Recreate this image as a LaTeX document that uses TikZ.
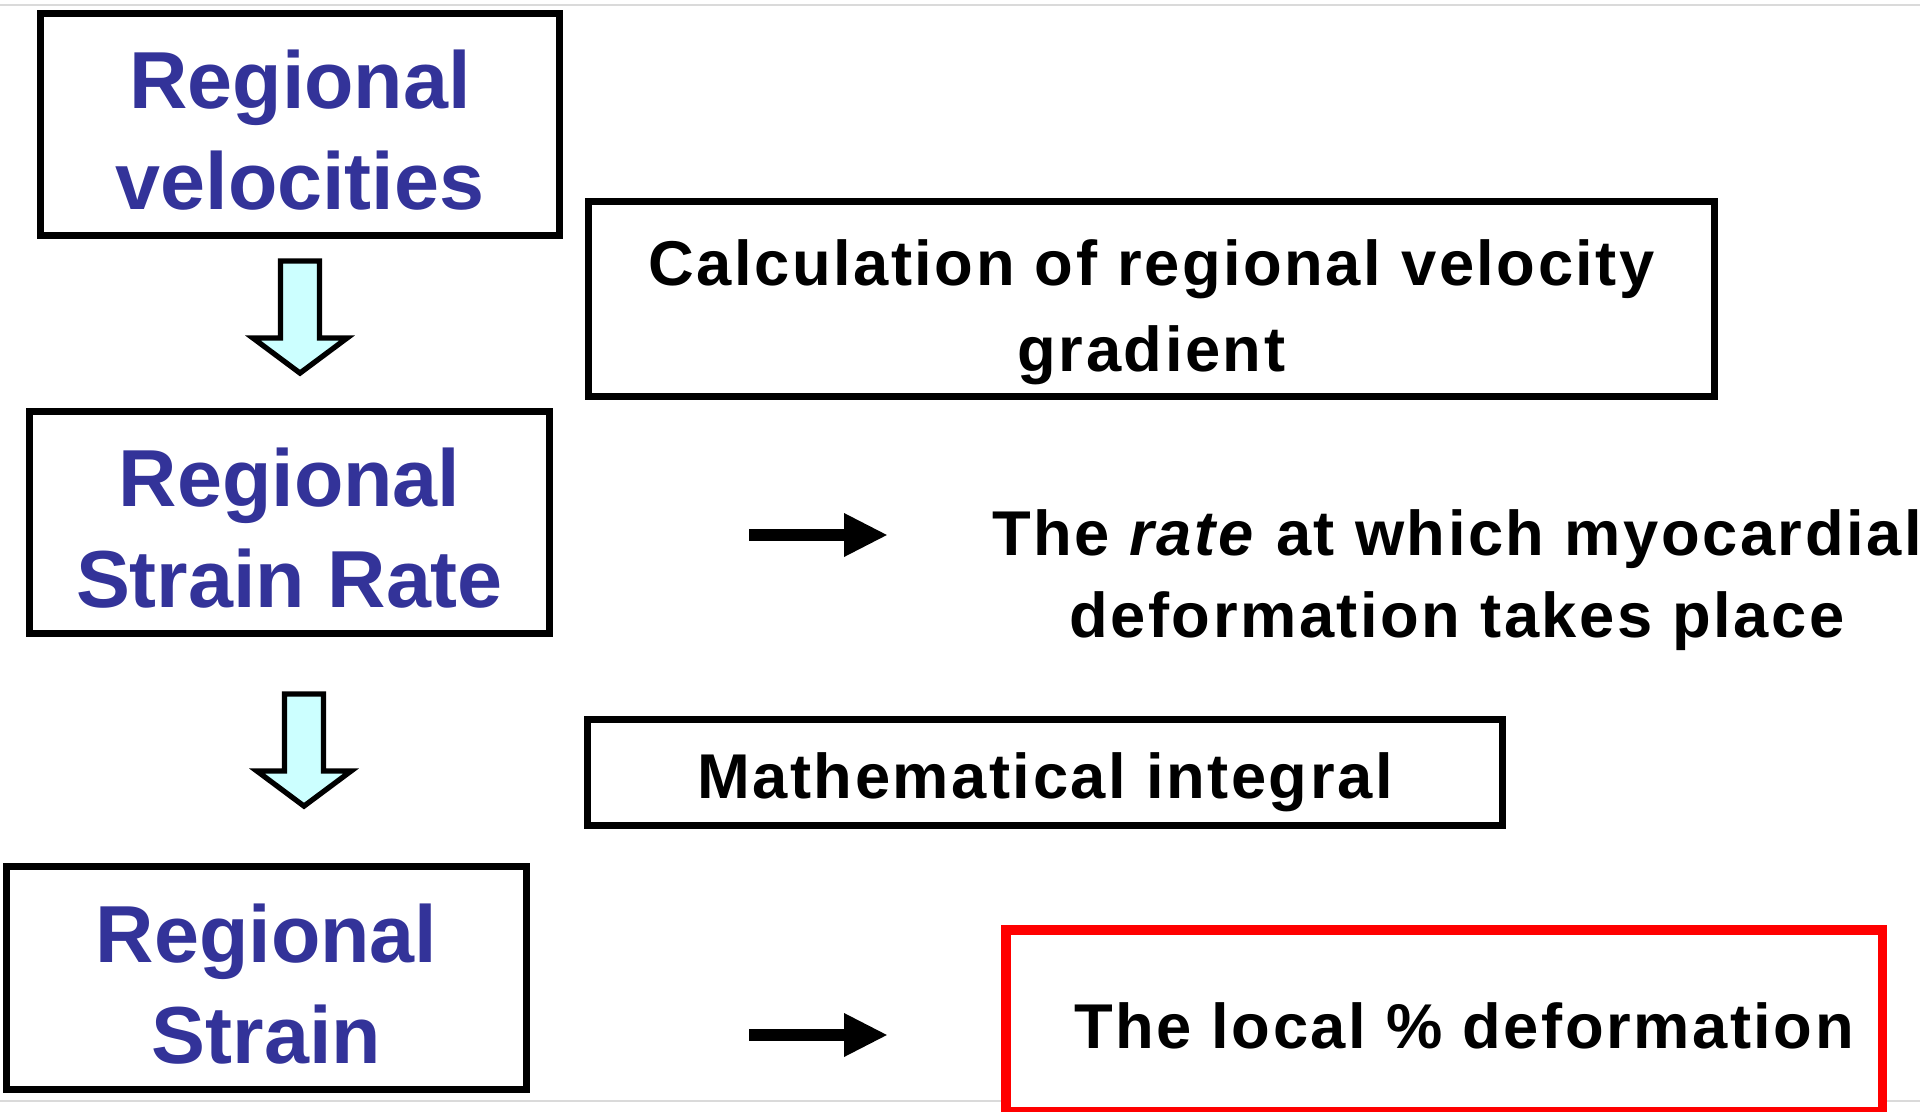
\documentclass[tikz,border=0pt]{standalone}
\usepackage{fontspec}
\setmainfont{Liberation Sans}
\newfontfamily\trackfont{Liberation Sans}[LetterSpace=4]
\usepackage{tikz}
\usetikzlibrary{arrows.meta,positioning,calc}
\definecolor{cReg}{HTML}{333399}
\definecolor{cArr}{HTML}{CCFFFF}
\definecolor{cRed}{HTML}{FF0000}
\definecolor{cRule}{HTML}{DADADA}
\newcommand{\regfont}{\fontsize{23}{28.7}\selectfont\bfseries}
\newcommand{\notefont}{\trackfont\fontsize{18}{24}\selectfont\bfseries}
\tikzset{
  regbox/.style={draw=black, line width=2pt, fill=white, text=cReg, inner sep=0pt,
                 minimum width=5.19cm, minimum height=2.22cm, font=\regfont, align=center,
                 text height=48.5pt, text depth=0pt},
  stepbox/.style={draw=black, line width=2pt, fill=white, inner sep=0pt,
                  font=\notefont, align=center},
  note/.style={font=\notefont, align=center, inner sep=0pt},
  redbox/.style={draw=cRed, line width=2.7pt, fill=white, inner sep=0pt,
                 minimum width=8.76cm, minimum height=1.82cm},
  hollowarr/.style={draw=black, line width=1.5pt, fill=cArr, line join=miter},
  blkarr/.style={-{Triangle[length=12.5pt, width=11.5pt]}, line width=3.3pt, black},
  sepline/.style={cRule, line width=0.6pt},
  hollowdown/.pic={
    \draw[hollowarr] (-19.5,0) -- (19.5,0) -- (19.5,77) -- (47,77) -- (0,112)
      -- (-47,77) -- (-19.5,77) -- cycle;
  }
}

\begin{document}
\begin{tikzpicture}[x=0.01cm, y=-0.01cm]
\useasboundingbox (0,0) rectangle (1920,1112);
% screenshot rules
\draw[sepline] (0,5) -- (1920,5);
\draw[sepline] (0,1101) -- (1920,1101);
% left column
\node[regbox] (vel) at (300,124.5) {Regional\\velocities};
\node[regbox] (sr) at (289.5,522.5) {Regional\\Strain Rate};
\node[regbox] (st) at (266.5,978) {Regional\\Strain};
\pic at ($(vel.south)+(0,22)$) {hollowdown};
\pic at ($(sr.south)+(14.5,57)$) {hollowdown};
% right column
\node[stepbox, minimum width=11.26cm, minimum height=1.95cm,
      text height=45.3pt, text depth=3.8pt] (grad) at (1151.5,299)
  {Calculation of regional velocity\\[0.7pt]gradient};
\node[stepbox, minimum width=9.15cm, minimum height=1.06cm,
      text height=18.5pt, text depth=3.8pt] (integ) at (1045,772.5)
  {Mathematical integral};
\node[note] (rate) at (1457,580)
  {The \textit{rate} at which myocardial\\[-0.7pt]deformation takes place};
\node[redbox] (localbox) at (1444,1021) {};
\node[note] (local) at (1464,1026) {The local \% deformation};
% meaning arrows
\coordinate (ra) at (749,535);
\coordinate (rb) at (888,535);
\draw[blkarr] (ra) -- (rb);
\coordinate (la) at (749,1035);
\coordinate (lb) at (888,1035);
\draw[blkarr] (la) -- (lb);
\end{tikzpicture}
\end{document}
